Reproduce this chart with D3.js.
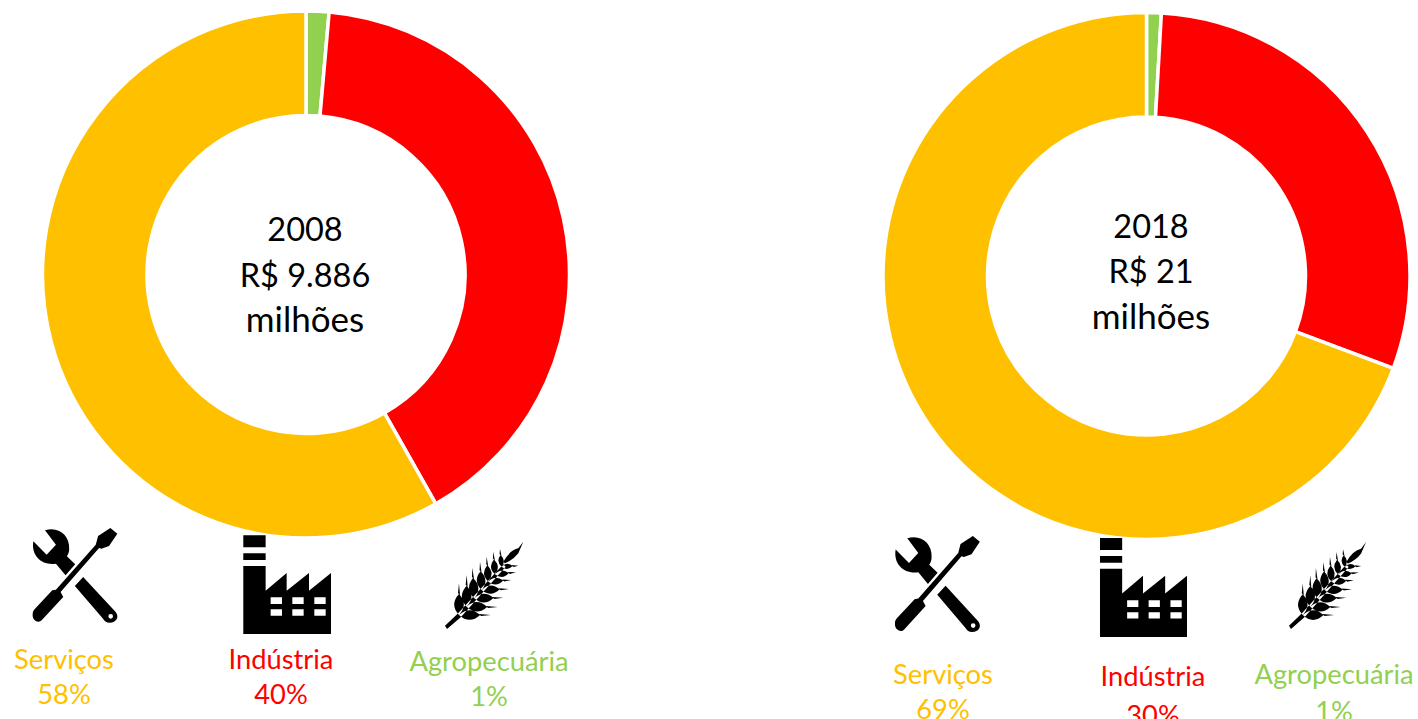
<!DOCTYPE html>
<html>
<head>
<meta charset="utf-8">
<script src="https://cdn.jsdelivr.net/npm/d3@7"></script>
<style>
  html, body { margin: 0; padding: 0; background: #fff; overflow: hidden; }
  text { font-family: Lato, "Open Sans", sans-serif; }
</style>
</head>
<body>
<script>
// chart values
var sectors = ["Agropecuária", "Indústria", "Serviços"];
var colors = ["#92D050", "#FF0000", "#FFC000"];
var values2008 = [1.4, 40.4, 58.2];
var values2018 = [0.9, 29.8, 69.3];
var labels2008 = ["1%", "40%", "58%"];
var labels2018 = ["1%", "30%", "69%"];
var center2008 = ["2008", "R$ 9.886", "milhões"];
var center2018 = ["2018", "R$ 21", "milhões"];

var width = 1418, height = 719;

var svg = d3.select("body")
  .append("svg")
    .attr("width", width)
    .attr("height", height)
    .style("display", "block");

// icons drawn in their own little coordinate box, squeezed into place later
var wrenchPath =
  "M75,25 C115,12 150,40 148,80 C148,90 145,97 141,103 L166,127 L137,160 L108,125 C70,132 32,105 40,58 L80,98 L108,68 Z" +
  "M165,192 L190,165 L288,270 C300,285 290,302 270,302 C260,302 255,298 250,290 Z" +
  "M266,283 a7,7 0 1,0 14,0 a7,7 0 1,0 -14,0 Z" +
  "M272,18 L293,35 L268,72 L245,80 L238,78 L122,210 L130,225 L65,295 C55,305 35,295 38,275 C38,270 40,265 45,260 L97,205 L108,203 L228,68 L235,42 Z";

var factoryPath =
  "M25,22 H92 V58 H25 Z M25,76 H92 V96 H25 Z" +
  "M25,114 H92 V188 L155,135 V188 L222,135 V188 L288,135 V318 H25 Z" +
  "M107,208 H141 V228 H107 Z M172,208 H206 V228 H172 Z M238,208 H272 V228 H238 Z" +
  "M107,244 H141 V263 H107 Z M172,244 H206 V263 H172 Z M238,244 H272 V263 H238 Z";

// wheat grains: [base on the stem, tip of the awn]
var grains = [
  [72,240,72,145],[95,215,95,120],[118,190,112,98],[140,165,135,80],
  [160,140,155,65],[180,118,175,50],[200,95,195,42],
  [72,240,168,240],[95,215,188,216],[118,190,205,188],[140,165,222,162],
  [160,140,228,135],[180,118,243,112],[200,95,250,92]
];

function grainPath(g) {
  var bx = g[0], by = g[1], tx = g[2], ty = g[3];
  var mx = bx + (tx - bx) * 0.66, my = by + (ty - by) * 0.66;
  var qx = (bx + mx) / 2, qy = (by + my) / 2;
  var nx = -(my - by) * 0.46, ny = (mx - bx) * 0.46;
  return "M" + bx + "," + by +
    " Q" + (qx + nx) + "," + (qy + ny) + " " + mx + "," + my +
    " Q" + (qx - nx) + "," + (qy - ny) + " " + bx + "," + by + " Z" +
    "M" + (mx - 3) + "," + (my - 3) + " L" + tx + "," + ty + " L" + (mx + 3) + "," + (my + 3) + " Z";
}

var wheatPath = grains.map(grainPath).join("") +
  "M30,272 L68,236 L205,88 L212,95 L78,246 L36,282 Z" +
  "M205,80 Q225,45 250,40 L265,20 L250,55 Q235,75 210,85 Z";

var icons = {
  wrench: { d: wrenchPath, box: [38, 18, 295, 302] },
  factory: { d: factoryPath, box: [25, 22, 288, 318] },
  wheat: { d: wheatPath, box: [30, 20, 265, 282] }
};

function drawIcon(name, x0, y0, x1, y1) {
  var ic = icons[name], b = ic.box;
  var sx = (x1 - x0) / (b[2] - b[0]), sy = (y1 - y0) / (b[3] - b[1]);
  svg.append("path")
    .attr("d", ic.d)
    .attr("fill", "#000")
    .attr("fill-rule", name == "wheat" ? "nonzero" : "evenodd")
    .attr("transform", "translate(" + x0 + "," + y0 + ") scale(" + sx + "," + sy + ") translate(" + (-b[0]) + "," + (-b[1]) + ")");
}

var pie = d3.pie().sort(null).value(function(d) { return d; });
var arc = d3.arc().innerRadius(159).outerRadius(263.5);

function drawDonut(cx, cy, values) {
  svg.append("g")
      .attr("transform", "translate(" + cx + "," + cy + ")")
    .selectAll("path")
    .data(pie(values))
    .enter().append("path")
      .attr("d", arc)
      .attr("fill", function(d, i) { return colors[i]; })
      .attr("stroke", "#fff")
      .attr("stroke-width", 3.5);
}

// the word milhões runs a bit wider in the original font
var centerSizes = [32.5, 32.5, 35];

function drawCenter(cx, ys, lines) {
  svg.selectAll(null)
    .data(lines)
    .enter().append("text")
      .attr("x", cx)
      .attr("y", function(d, i) { return ys[i]; })
      .attr("text-anchor", "middle")
      .attr("font-size", function(d, i) { return centerSizes[i]; })
      .attr("fill", "#000")
      .text(function(d) { return d; });
}

function drawLabel(i, cx, y1, y2, pct) {
  svg.append("text").attr("x", cx).attr("y", y1).attr("text-anchor", "middle")
    .attr("font-size", 27.3).attr("fill", colors[i]).text(sectors[i]);
  svg.append("text").attr("x", cx).attr("y", y2).attr("text-anchor", "middle")
    .attr("font-size", 27.3).attr("fill", colors[i]).text(pct);
}

// left chart, 2008
drawDonut(306, 274.5, values2008);
drawCenter(305, [241, 287, 332], center2008);
drawIcon("wrench", 32.7, 528, 118, 622.7);
drawIcon("factory", 243.3, 535.3, 331, 634);
drawIcon("wheat", 445, 541.7, 523.3, 629);
drawLabel(2, 64, 669, 704, labels2008[2]);
drawLabel(1, 281, 669, 704, labels2008[1]);
drawLabel(0, 489, 671, 706, labels2008[0]);

// right chart, 2018
drawDonut(1146.5, 276, values2018);
drawCenter(1151, [238, 283, 329], center2018);
drawIcon("wrench", 895, 536, 980.5, 632);
drawIcon("factory", 1100, 538, 1187, 637);
drawIcon("wheat", 1289, 542, 1366, 629);
drawLabel(2, 943, 684, 719, labels2018[2]);
drawLabel(1, 1153, 686, 725, labels2018[1]);
drawLabel(0, 1334, 684, 721, labels2018[0]);
</script>
</body>
</html>
